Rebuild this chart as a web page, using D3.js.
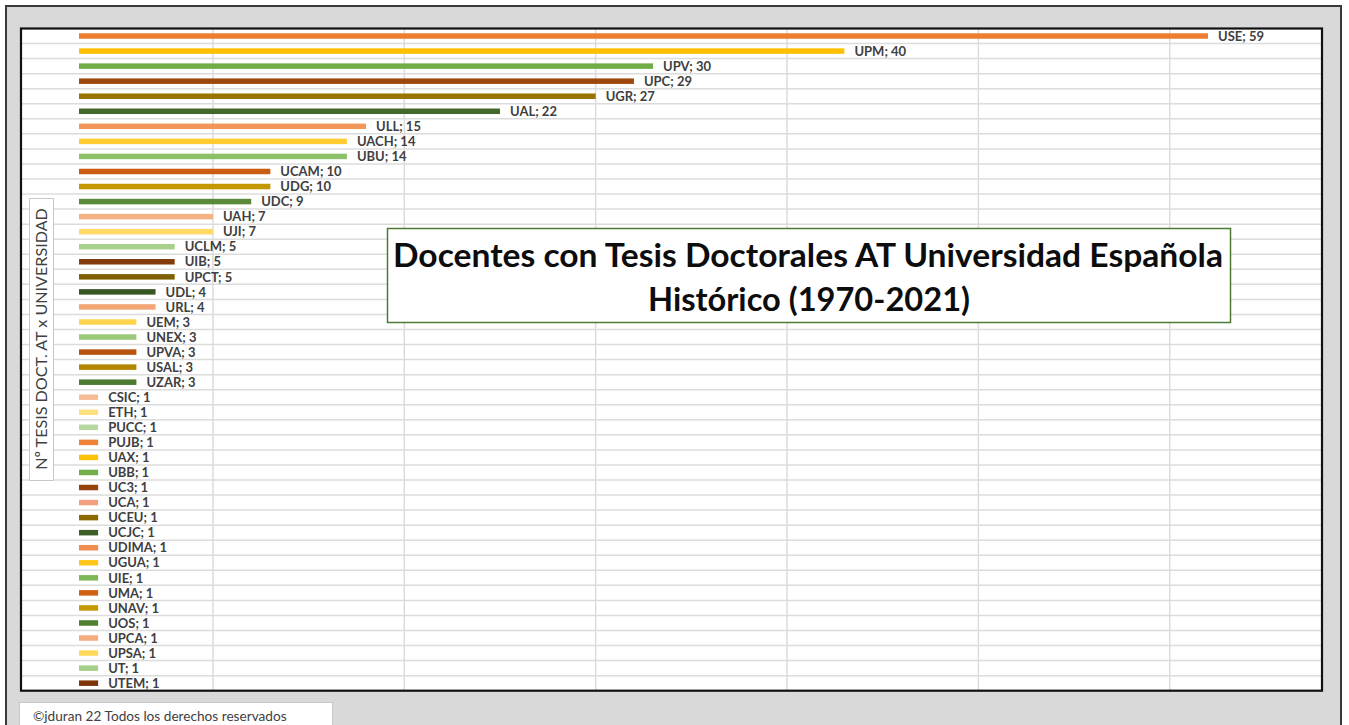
<!DOCTYPE html>
<html>
<head>
<meta charset="utf-8">
<script src="https://cdn.jsdelivr.net/npm/d3@7"></script>
<style>
  body { margin: 0; background: #ffffff; }
  svg { display: block; }
</style>
</head>
<body>
<div id="chart"></div>
<script>
// universidades y nº de tesis
var categories = ['USE', 'UPM', 'UPV', 'UPC', 'UGR', 'UAL', 'ULL', 'UACH', 'UBU', 'UCAM', 'UDG',
  'UDC', 'UAH', 'UJI', 'UCLM', 'UIB', 'UPCT', 'UDL', 'URL', 'UEM', 'UNEX', 'UPVA', 'USAL', 'UZAR',
  'CSIC', 'ETH', 'PUCC', 'PUJB', 'UAX', 'UBB', 'UC3', 'UCA', 'UCEU', 'UCJC', 'UDIMA', 'UGUA',
  'UIE', 'UMA', 'UNAV', 'UOS', 'UPCA', 'UPSA', 'UT', 'UTEM'];
var values = [59, 40, 30, 29, 27, 22, 15, 14, 14, 10, 10,
  9, 7, 7, 5, 5, 5, 4, 4, 3, 3, 3, 3, 3,
  1, 1, 1, 1, 1, 1, 1, 1, 1, 1, 1, 1,
  1, 1, 1, 1, 1, 1, 1, 1];
// columnas de la hoja que quedan detras del grafico
var gridValues = [7, 17, 27, 37, 47, 57];
var titleLines = ['Docentes con Tesis Doctorales AT Universidad Española', 'Histórico (1970-2021)'];
var axisTitle = 'Nº TESIS DOCT. AT x UNIVERSIDAD';
var footer = '©jduran 22 Todos los derechos reservados';

// colores tipo excel (naranja, oro, verde y variaciones)
var palette = ['#ED7D31', '#FFC000', '#70AD47', '#9E480E', '#997300', '#43682B',
  '#F1975A', '#FFCD33', '#8CC168', '#CB5C12', '#C49600', '#5A8A39',
  '#F4B183', '#FFD965', '#A9D18E', '#843C0C', '#7F6000', '#375623',
  '#F3A676', '#FFD34D', '#9BC97A', '#B85410', '#B38600', '#4E7A32',
  '#F6BE98', '#FFE080', '#B7D8A1', '#EE8239', '#FFC20A', '#72AF4A',
  '#97430E', '#F2A080', '#8C6900', '#3D5F27', '#F08C4E', '#FFC61A',
  '#7DB857', '#D0600F', '#C69900', '#4F7F30', '#F4AC80', '#FFD85C',
  '#A5CF8A', '#7D360B'];

var W = 1349, H = 725;
var plot = { left: 21, top: 28.5, right: 1322, bottom: 690.7 };

var svg = d3.select('#chart').append('svg')
  .attr('width', W)
  .attr('height', H);

// marco gris exterior
svg.append('rect')
  .attr('x', 6).attr('y', 6)
  .attr('width', 1335).attr('height', 760)
  .style('fill', '#d9d9d9')
  .style('stroke', '#3a3a3a')
  .style('stroke-width', 2);

// area del grafico
svg.append('rect')
  .attr('x', plot.left).attr('y', plot.top)
  .attr('width', plot.right - plot.left).attr('height', plot.bottom - plot.top)
  .style('fill', '#ffffff');

var xScale = d3.scaleLinear()
  .domain([0, 59])
  .range([79, 1208]);

var yScale = d3.scaleBand()
  .domain(categories)
  .range([plot.top, plot.bottom])
  .padding(0);

var barHeight = 5.5;

// lineas de la hoja
var grid = svg.append('g');
grid.selectAll('line.h').data(categories.slice(1))
  .enter().append('line')
  .attr('class', 'h')
  .attr('x1', plot.left).attr('x2', plot.right)
  .attr('y1', function(d) { return yScale(d); })
  .attr('y2', function(d) { return yScale(d); })
  .style('stroke', '#dcdcdc')
  .style('stroke-width', 1.5);

grid.selectAll('line.v').data(gridValues)
  .enter().append('line')
  .attr('class', 'v')
  .attr('x1', function(d) { return xScale(d); })
  .attr('x2', function(d) { return xScale(d); })
  .attr('y1', plot.top).attr('y2', plot.bottom)
  .style('stroke', '#dcdcdc')
  .style('stroke-width', 1.5);

// barras
svg.append('g').selectAll('rect').data(values)
  .enter().append('rect')
  .attr('x', xScale(0))
  .attr('y', function(d, i) { return yScale(categories[i]) + yScale.bandwidth() / 2 - barHeight / 2; })
  .attr('width', function(d) { return xScale(d) - xScale(0); })
  .attr('height', barHeight)
  .style('fill', function(d, i) { return palette[i % palette.length]; });

// etiquetas
svg.append('g').selectAll('text').data(values)
  .enter().append('text')
  .attr('x', function(d) { return xScale(d) + 10; })
  .attr('y', function(d, i) { return yScale(categories[i]) + yScale.bandwidth() / 2; })
  .attr('dy', '0.36em')
  .style('font-family', 'Lato, sans-serif')
  .style('font-weight', 'bold')
  .style('font-size', '13px')
  .style('fill', '#404040')
  .text(function(d, i) { return categories[i] + '; ' + d; });

// borde del area
svg.append('rect')
  .attr('x', plot.left).attr('y', plot.top)
  .attr('width', plot.right - plot.left).attr('height', plot.bottom - plot.top)
  .style('fill', 'none')
  .style('stroke', '#111111')
  .style('stroke-width', 2.2);

function fitText(sel, target) {
  var len = sel.node().getComputedTextLength();
  var size = parseFloat(sel.style('font-size'));
  sel.style('font-size', (size * target / len) + 'px');
}

// titulo del eje
svg.append('rect')
  .attr('x', 29.5).attr('y', 198.5)
  .attr('width', 24).attr('height', 282)
  .style('fill', '#ffffff')
  .style('stroke', '#c8c8c8')
  .style('stroke-width', 1);

var yTitle = svg.append('text')
  .attr('transform', 'translate(47,339) rotate(-90)')
  .attr('text-anchor', 'middle')
  .style('font-family', 'Lato, sans-serif')
  .style('font-size', '14px')
  .style('fill', '#404040')
  .text(axisTitle);
fitText(yTitle, 262);

// caja del titulo
svg.append('rect')
  .attr('x', 387.5).attr('y', 228.5)
  .attr('width', 843).attr('height', 94)
  .style('fill', '#ffffff')
  .style('stroke', '#4f7a31')
  .style('stroke-width', 1.5);

// letra algo mas estrecha, como la de excel
svg.append('text')
  .attr('x', 808).attr('y', 267)
  .attr('text-anchor', 'middle')
  .attr('textLength', 830)
  .attr('lengthAdjust', 'spacingAndGlyphs')
  .style('font-family', 'Lato, sans-serif')
  .style('font-weight', 'bold')
  .style('font-size', '31.5px')
  .style('fill', '#0d0d0d')
  .text(titleLines[0]);

svg.append('text')
  .attr('x', 809).attr('y', 311)
  .attr('text-anchor', 'middle')
  .attr('textLength', 322)
  .attr('lengthAdjust', 'spacingAndGlyphs')
  .style('font-family', 'Lato, sans-serif')
  .style('font-weight', 'bold')
  .style('font-size', '31.5px')
  .style('fill', '#0d0d0d')
  .text(titleLines[1]);

// pie
svg.append('rect')
  .attr('x', 19.5).attr('y', 702.5)
  .attr('width', 313).attr('height', 40)
  .style('fill', '#ffffff')
  .style('stroke', '#c8c8c8')
  .style('stroke-width', 1);

var foot = svg.append('text')
  .attr('x', 33).attr('y', 721)
  .style('font-family', 'Lato, sans-serif')
  .style('font-size', '12px')
  .style('fill', '#404040')
  .text(footer);
fitText(foot, 254);
</script>
</body>
</html>
